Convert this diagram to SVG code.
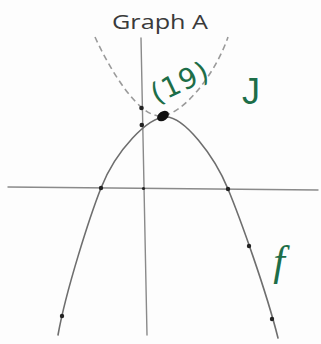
<svg xmlns="http://www.w3.org/2000/svg" width="321" height="344" viewBox="0 0 321 344">
<style>
.axis{stroke:#8a8a8a;stroke-width:1.4;fill:none;stroke-linecap:round}
.curve{stroke:#6e6e6e;stroke-width:1.6;fill:none;stroke-linecap:round}
.dash{stroke:#9a9a9a;stroke-width:1.6;fill:none;stroke-dasharray:6 4}
.dot{fill:#222}
.hand{fill:#1d6e48;font-family:"DejaVu Sans",sans-serif}
.title{fill:#3a3a3a;font-family:"Open Sans","Liberation Sans",sans-serif;font-size:20px}
</style>
<rect width="321" height="344" fill="#fdfdfd"/>
<g id="title"><text class="title" x="160" y="29" text-anchor="middle" textLength="96" lengthAdjust="spacingAndGlyphs">Graph A</text></g>
<g id="axes">
<line class="axis" x1="141" y1="38" x2="147" y2="335"/>
<line class="axis" x1="8" y1="187" x2="318" y2="190"/>
</g>
<g id="connectors">
<path id="f" class="curve" d="M166,117 C148,117 116,150 101,188 C90,216 66,290 58,335 M166,117 C184,117 214,155 228,189 C240,218 266,290 278,338"/>
<path id="g" class="dash" d="M95,37 C110,70 138,116 160,116 C182,116 215,75 228,37"/>
</g>
<g id="points">
<circle class="dot" cx="141.5" cy="108" r="2.3"/>
<circle class="dot" cx="141.8" cy="125" r="2.3"/>
<circle class="dot" cx="101" cy="188" r="2.2"/>
<circle class="dot" cx="143.5" cy="188.5" r="1.6"/>
<circle class="dot" cx="228" cy="189" r="2.2"/>
<circle class="dot" cx="249" cy="246" r="2.2"/>
<circle class="dot" cx="272" cy="319" r="2.2"/>
<circle class="dot" cx="62" cy="316" r="2.2"/>
<ellipse cx="163" cy="116" rx="6.5" ry="4.5" fill="#111" transform="rotate(-35 163 116)"/>
</g>
<g id="labels">
<text class="hand" x="184" y="91" font-size="28" letter-spacing="1" text-anchor="middle" transform="rotate(-25 184 91)">(19)</text>
<text x="251" y="104" font-size="36" text-anchor="middle" fill="#1d6e48" font-family="'Liberation Sans',sans-serif">J</text>
<text x="279" y="275" font-size="42" text-anchor="middle" fill="#1d6e48" font-family="'Liberation Serif',serif" font-style="italic">f</text>
</g>
</svg>
